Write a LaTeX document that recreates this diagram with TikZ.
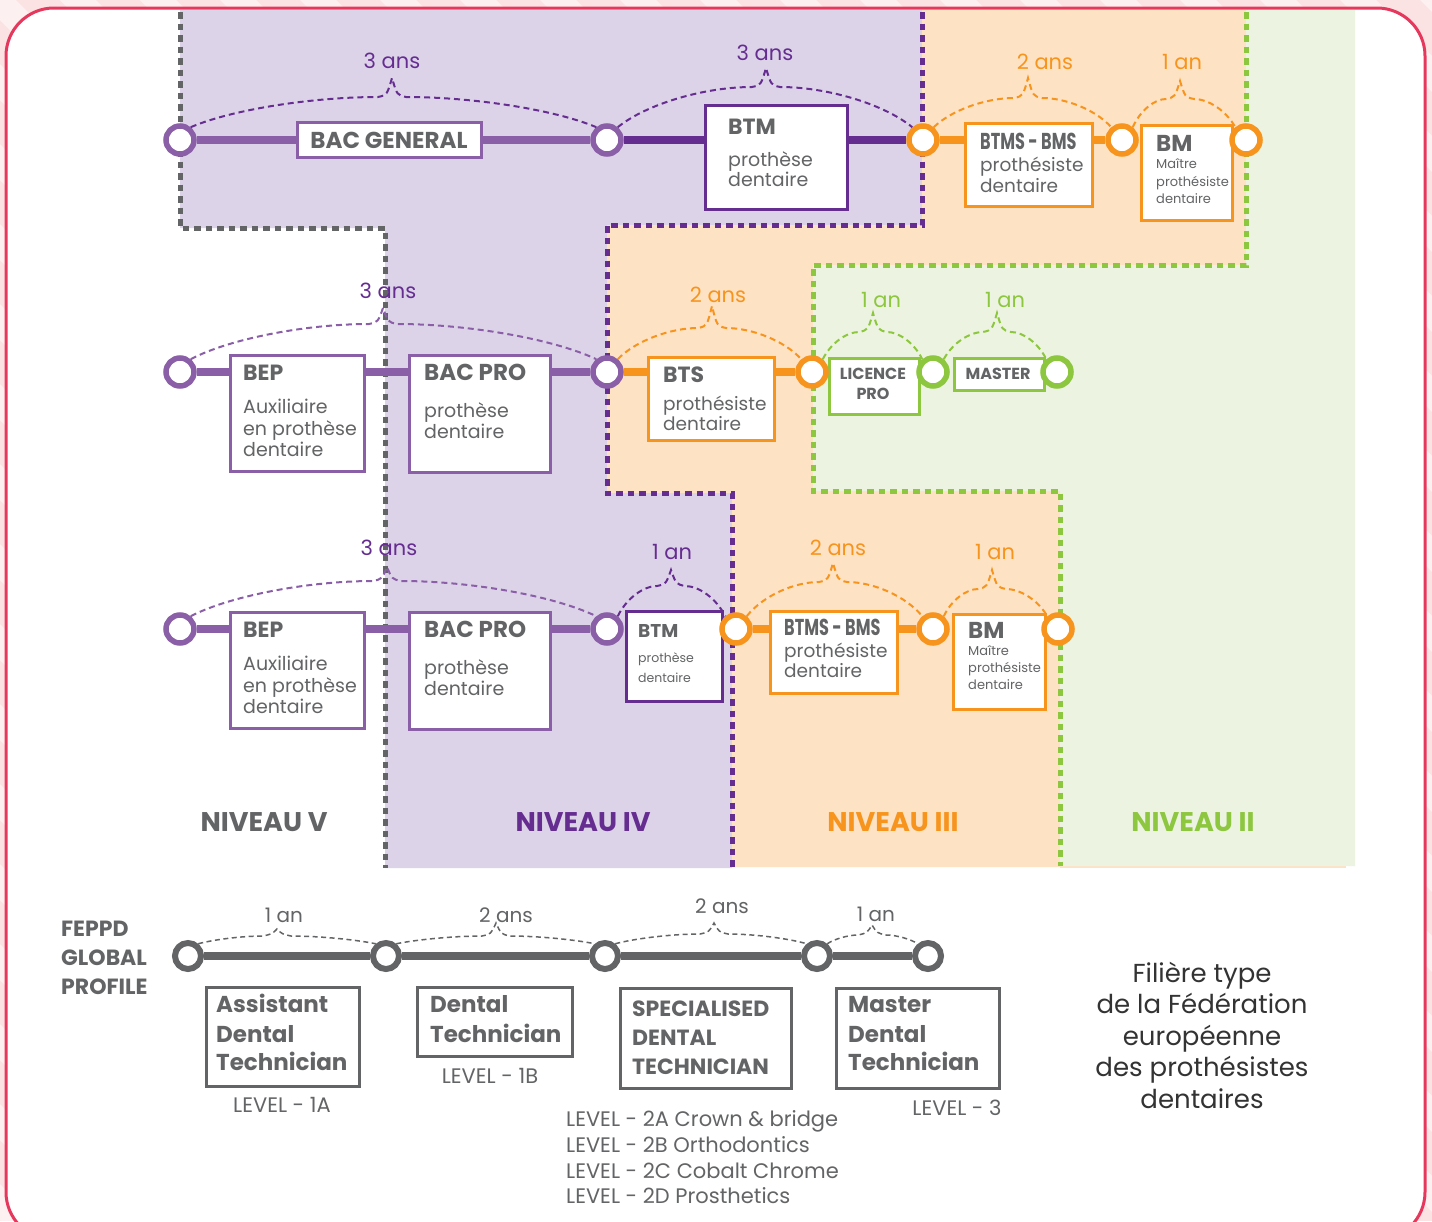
\documentclass[tikz,border=0pt]{standalone}
\usepackage{fontspec}
\setmainfont{Poppins}
\usetikzlibrary{backgrounds}
\definecolor{dpurple}{HTML}{662D91}
\definecolor{mpurple}{HTML}{8B5FA8}
\definecolor{orng}{HTML}{F7941D}
\definecolor{grn}{HTML}{8DC63F}
\definecolor{gry}{HTML}{636466}
\definecolor{lpurple}{HTML}{DCD3E8}
\definecolor{lorange}{HTML}{FEE2C4}
\definecolor{lgreen}{HTML}{ECF3E1}
\definecolor{framec}{HTML}{E6385C}
\definecolor{pinkbg}{HTML}{FBE3E3}
\definecolor{pinklt}{HTML}{FDF0F0}
\definecolor{dtext}{HTML}{333333}
\pgfdeclarelayer{regions}
\pgfdeclarelayer{lines}
\pgfsetlayers{regions,lines,main}
\newcommand{\fsz}[1]{\fontsize{#1}{#1}\selectfont}
\newcommand{\bx}[6]{\node[box=#2, minimum width={#5-#3}, minimum height={#6-#4}] (#1) at (#3,#4) {};}
\newcommand{\brc}[9]{%
 \pgfmathsetmacro\brL{#7-14-#4-11}%
 \pgfmathsetmacro\brR{#5-11-#7-14}%
 \pgfmathsetmacro\brH{#6-12.6-#9}%
 \draw[#1] (#2.50) .. controls +({0.22*\brL},{-0.6*\brH}) and +({-0.35*\brL},0) .. (#7-14,#9-1)
   .. controls (#7-5,#9-3) .. (#7,#8)
   .. controls (#7+5,#9-3) .. (#7+14,#9-1)
   .. controls +({0.35*\brR},0) and +({-0.22*\brR},{-0.6*\brH}) .. (#3.130);}
\begin{document}
\begin{tikzpicture}[x=1pt,y=-1pt,
  stn/.style={circle, draw=#1, fill=white, line width=5.5pt, minimum size=28pt, inner sep=0pt},
  gstn/.style={circle, draw=gry, fill=white, line width=6pt, minimum size=26pt, inner sep=0pt},
  box/.style={draw=#1, fill=white, line width=3pt, inner sep=0pt, anchor=north west},
  ttl/.style={inner sep=0pt, anchor=base west, text=gry, font=\bfseries\fsz{#1}},
  bdy/.style={inner sep=0pt, anchor=base west, text=gry, font=\fsz{#1}},
  yrs/.style={inner sep=0pt, anchor=base, text=#1, font=\fsz{21}},
  gyrs/.style={inner sep=0pt, anchor=base, text=gry, font=\fsz{20}},
  link/.style={draw=#1, line width=8.5pt},
  yb/.style={draw=#1, line width=2pt, dash pattern=on 6pt off 4pt},
  gb/.style={draw=gry, line width=1.5pt, dash pattern=on 5pt off 3.5pt},
  dotb/.style={draw=#1, line width=5pt, dash pattern=on 6.5pt off 5pt},
  lvl/.style={inner sep=0pt, anchor=base, text=#1, font=\bfseries\fsz{27}},
  lvt/.style={inner sep=0pt, text=gry, font=\fsz{21}},
  fil/.style={inner sep=0pt, anchor=base, text=dtext, font=\fsz{26}}
  ]
\useasboundingbox (0,0) rectangle (1432,1221);
\begin{pgfonlayer}{regions}
\fill[pinkbg] (0,0) rectangle (1432,1221);
\foreach \s in {-1300,-1220,...,1500} \fill[pinklt] (\s,0) -- ++(36,0) -- ++(1221,1221) -- ++(-36,0) -- cycle;
\fill[white, rounded corners=48] (6,8) rectangle (1425,1240);
\fill[lpurple] (180,10) -- (922,10) -- (922,225) -- (607,225) -- (607,493) -- (732,493) -- (732,868) -- (385,868) -- (385,228) -- (180,228) -- cycle;
\fill[lorange] (922,10) -- (1246,10) -- (1246,265) -- (813,265) -- (813,491) -- (1060,491) -- (1060,867) -- (732,867) -- (732,493) -- (607,493) -- (607,225) -- (922,225) -- cycle;
\fill[lorange] (1060,863) rectangle (1346,868);
\fill[lgreen] (1246,10) -- (1355,10) -- (1355,866) -- (1060,866) -- (1060,491) -- (813,491) -- (813,265) -- (1246,265) -- cycle;
\draw[dotb=gry] (180,12) -- (180,228) -- (385,228) -- (385,868);
\draw[dotb=dpurple] (922,12) -- (922,225) -- (607,225) -- (607,493) -- (732,493) -- (732,868);
\draw[dotb=grn] (1246,12) -- (1246,265) -- (813,265) -- (813,491) -- (1060,491) -- (1060,866);
\draw[framec, line width=3pt, rounded corners=48] (6,8) rectangle (1425,1240);
\end{pgfonlayer}

% ---------- row 1
\node[box=mpurple, anchor=center, font=\bfseries\fsz{23}, text=gry, minimum width=184, minimum height=35] (bacg) at (389,140) {BAC GENERAL};
\bx{btm1}{dpurple}{704}{104}{846}{208}
\node[ttl=22] (btm1T) at (728,134) {BTM};
\node[bdy=19] (btm1a) at (728,166) {prothèse};
\node[bdy=19] (btm1b) at (728,186) {dentaire};
\bx{btms1}{orng}{964}{122}{1091}{205}
\node[ttl=23] (btms1T) at (980,149) {\scalebox{0.7}[1]{BTMS - BMS}};
\node[bdy=18.5] (btms1a) at (980,171) {prothésiste};
\node[bdy=18.5] (btms1b) at (980,192) {dentaire};
\bx{bm1}{orng}{1140}{124}{1231}{219}
\node[ttl=23] (bm1T) at (1156,151) {BM};
\node[bdy=13] (bm1a) at (1156,168) {Maître};
\node[bdy=13] (bm1b) at (1156,186) {prothésiste};
\node[bdy=13] (bm1c) at (1156,203) {dentaire};

% ---------- row 2
\bx{bep2}{mpurple}{229}{354}{363}{470}
\node[ttl=22] (bep2T) at (243,380) {BEP};
\node[bdy=19] (bep2a) at (243,413) {Auxiliaire};
\node[bdy=19] (bep2b) at (243,435) {en prothèse};
\node[bdy=19] (bep2c) at (243,456) {dentaire};
\bx{bac2}{mpurple}{408}{354}{549}{471}
\node[ttl=23] (bac2T) at (424,380) {BAC PRO};
\node[bdy=19] (bac2a) at (424,417) {prothèse};
\node[bdy=19] (bac2b) at (424,438) {dentaire};
\bx{bts2}{orng}{647}{356}{773}{439}
\node[ttl=22] (bts2T) at (663,382) {BTS};
\node[bdy=18.5] (bts2a) at (663,410) {prothésiste};
\node[bdy=18.5] (bts2b) at (663,430) {dentaire};
\bx{lic}{grn}{828}{357}{918}{413}
\node[inner sep=0pt, anchor=base, text=gry, font=\bfseries\fsz{16}] (licA) at (873,379) {LICENCE};
\node[inner sep=0pt, anchor=base, text=gry, font=\bfseries\fsz{16}] (licB) at (873,399.5) {PRO};
\bx{mst}{grn}{953}{357}{1043}{389}
\node[inner sep=0pt, anchor=base, text=gry, font=\bfseries\fsz{16}] (mstT) at (998,379) {MASTER};

% ---------- row 3
\bx{bep3}{mpurple}{229}{611}{363}{727}
\node[ttl=22] (bep3T) at (243,637) {BEP};
\node[bdy=19] (bep3a) at (243,670) {Auxiliaire};
\node[bdy=19] (bep3b) at (243,692) {en prothèse};
\node[bdy=19] (bep3c) at (243,713) {dentaire};
\bx{bac3}{mpurple}{408}{611}{549}{728}
\node[ttl=23] (bac3T) at (424,637) {BAC PRO};
\node[bdy=19] (bac3a) at (424,674) {prothèse};
\node[bdy=19] (bac3b) at (424,695) {dentaire};
\bx{btm3}{dpurple}{625}{610}{721}{700}
\node[ttl=18.5] (btm3T) at (638,637) {BTM};
\node[bdy=12.5] (btm3a) at (638,662) {prothèse};
\node[bdy=12.5] (btm3b) at (638,682) {dentaire};
\bx{btms3}{orng}{769}{610}{896}{692}
\node[ttl=23] (btms3T) at (784,635) {\scalebox{0.7}[1]{BTMS - BMS}};
\node[bdy=18.5] (btms3a) at (784,657) {prothésiste};
\node[bdy=18.5] (btms3b) at (784,677) {dentaire};
\bx{bm3}{orng}{952}{613}{1044}{708}
\node[ttl=23] (bm3T) at (968,638) {BM};
\node[bdy=13] (bm3a) at (968,655) {Maître};
\node[bdy=13] (bm3b) at (968,672) {prothésiste};
\node[bdy=13] (bm3c) at (968,689) {dentaire};

% ---------- stations
\node[stn=mpurple] (r1a) at (180,140) {};
\node[stn=mpurple] (r1b) at (607,140) {};
\node[stn=orng] (r1c) at (923,140) {};
\node[stn=orng] (r1d) at (1122,140) {};
\node[stn=orng] (r1e) at (1246,140) {};
\node[stn=mpurple] (r2a) at (180,372) {};
\node[stn=mpurple] (r2b) at (607,372) {};
\node[stn=orng] (r2c) at (812,372) {};
\node[stn=grn] (r2d) at (933,372) {};
\node[stn=grn] (r2e) at (1057,372) {};
\node[stn=mpurple] (r3a) at (180,629) {};
\node[stn=mpurple] (r3b) at (607,629) {};
\node[stn=orng] (r3c) at (736,629) {};
\node[stn=orng] (r3d) at (933,629) {};
\node[stn=orng] (r3e) at (1058,629) {};
\node[gstn] (g1) at (188,956) {};
\node[gstn] (g2) at (386,956) {};
\node[gstn] (g3) at (605,956) {};
\node[gstn] (g4) at (817,956) {};
\node[gstn] (g5) at (928,956) {};

\begin{pgfonlayer}{lines}
\draw[link=mpurple] (r1a) -- (r1b);
\draw[link=dpurple] (r1b) -- (r1c);
\draw[link=orng] (r1c) -- (r1d);
\draw[link=mpurple] (r2a) -- (r2b);
\draw[link=orng] (r2b) -- (r2c);
\draw[link=mpurple] (r3a) -- (r3b);
\draw[link=orng] (r3c) -- (r3d);
\draw[draw=gry, line width=8pt] (g1) -- (g2) -- (g3) -- (g4) -- (g5);
\end{pgfonlayer}

% ---------- braces
\brc{yb=dpurple}{r1a}{r1b}{180}{607}{140}{392}{78}{98}
\brc{yb=dpurple}{r1b}{r1c}{607}{923}{140}{766}{68}{88}
\brc{yb=orng}{r1c}{r1d}{923}{1122}{140}{1028}{78}{99}
\brc{yb=orng}{r1d}{r1e}{1122}{1246}{140}{1180}{81}{100}
\brc{yb=mpurple}{r2a}{r2b}{180}{607}{372}{383}{308}{325}
\brc{yb=orng}{r2b}{r2c}{607}{812}{372}{712}{306}{329}
\brc{yb=grn}{r2c}{r2d}{812}{933}{372}{873}{313}{333}
\brc{yb=grn}{r2d}{r2e}{933}{1057}{372}{997}{313}{333}
\brc{yb=mpurple}{r3a}{r3b}{180}{607}{629}{387}{567}{582}
\brc{yb=dpurple}{r3b}{r3c}{607}{736}{629}{671}{570}{587}
\brc{yb=orng}{r3c}{r3d}{736}{933}{629}{833}{563}{583}
\brc{yb=orng}{r3d}{r3e}{933}{1058}{629}{992}{570}{590}
\brc{gb}{g1}{g2}{188}{386}{956}{277}{929}{937}
\brc{gb}{g2}{g3}{386}{605}{956}{496}{923}{937}
\brc{gb}{g3}{g4}{605}{817}{956}{714}{923}{935}
\brc{gb}{g4}{g5}{817}{928}{956}{872}{925}{936}

\node[yrs=dpurple] (y1) at (392,68) {3 ans};
\node[yrs=dpurple] (y2) at (765,60) {3 ans};
\node[yrs=orng] (y3) at (1045,69) {2 ans};
\node[yrs=orng] (y4) at (1182,69) {1 an};
\node[yrs=dpurple] (y5) at (388,298) {3 ans};
\node[yrs=orng] (y6) at (718,302) {2 ans};
\node[yrs=grn] (y7) at (881,307) {1 an};
\node[yrs=grn] (y8) at (1005,307) {1 an};
\node[yrs=dpurple] (y9) at (389,555) {3 ans};
\node[yrs=dpurple] (y10) at (672,559) {1 an};
\node[yrs=orng] (y11) at (838,555) {2 ans};
\node[yrs=orng] (y12) at (995,559) {1 an};
\node[gyrs] (y13) at (284,922) {1 an};
\node[gyrs] (y14) at (506,922) {2 ans};
\node[gyrs] (y15) at (722,913) {2 ans};
\node[gyrs] (y16) at (876,921) {1 an};

% ---------- level names
\node[lvl=gry] (nv5) at (264,831) {NIVEAU V};
\node[lvl=dpurple] (nv4) at (583,831) {NIVEAU IV};
\node[lvl=orng] (nv3) at (893,831) {NIVEAU III};
\node[lvl=grn] (nv2) at (1193,831) {NIVEAU II};

% ---------- FEPPD profile
\node[ttl=22] (fp1) at (61,936) {FEPPD};
\node[ttl=22] (fp2) at (61,965) {GLOBAL};
\node[ttl=22] (fp3) at (61,994) {PROFILE};
\bx{adt}{gry}{205}{986}{358}{1085}
\node[ttl=23] (adtA) at (216,1012) {Assistant};
\node[ttl=23] (adtB) at (216,1042) {Dental};
\node[ttl=23] (adtC) at (216,1070) {Technician};
\bx{dt}{gry}{416}{986}{571}{1055}
\node[ttl=23] (dtA) at (430,1012) {Dental};
\node[ttl=23] (dtB) at (430,1042) {Technician};
\bx{sdt}{gry}{619}{987}{790}{1087}
\node[ttl=22] (sdtA) at (632,1016) {SPECIALISED};
\node[ttl=22] (sdtB) at (632,1045) {DENTAL};
\node[ttl=22] (sdtC) at (632,1074) {TECHNICIAN};
\bx{mdt}{gry}{835}{987}{998}{1087}
\node[ttl=23] (mdtA) at (848,1012) {Master};
\node[ttl=23] (mdtB) at (848,1042) {Dental};
\node[ttl=23] (mdtC) at (848,1070) {Technician};

\node[lvt, anchor=base] (l1a) at (282,1112) {LEVEL - 1A};
\node[lvt, anchor=base] (l1b) at (490,1083) {LEVEL - 1B};
\node[lvt, anchor=base] (l3) at (957,1115) {LEVEL - 3};
\node[lvt, anchor=base west] (l2a) at (566,1126) {LEVEL - 2A Crown \& bridge};
\node[lvt, anchor=base west] (l2b) at (566,1152) {LEVEL - 2B Orthodontics};
\node[lvt, anchor=base west] (l2c) at (566,1178) {LEVEL - 2C Cobalt Chrome};
\node[lvt, anchor=base west] (l2d) at (566,1203) {LEVEL - 2D Prosthetics};

\node[fil] (f1) at (1202,982) {Filière type};
\node[fil] (f2) at (1202,1013.5) {de la Fédération};
\node[fil] (f3) at (1202,1045) {européenne};
\node[fil] (f4) at (1202,1076.5) {des prothésistes};
\node[fil] (f5) at (1202,1108) {dentaires};
\end{tikzpicture}
\end{document}
